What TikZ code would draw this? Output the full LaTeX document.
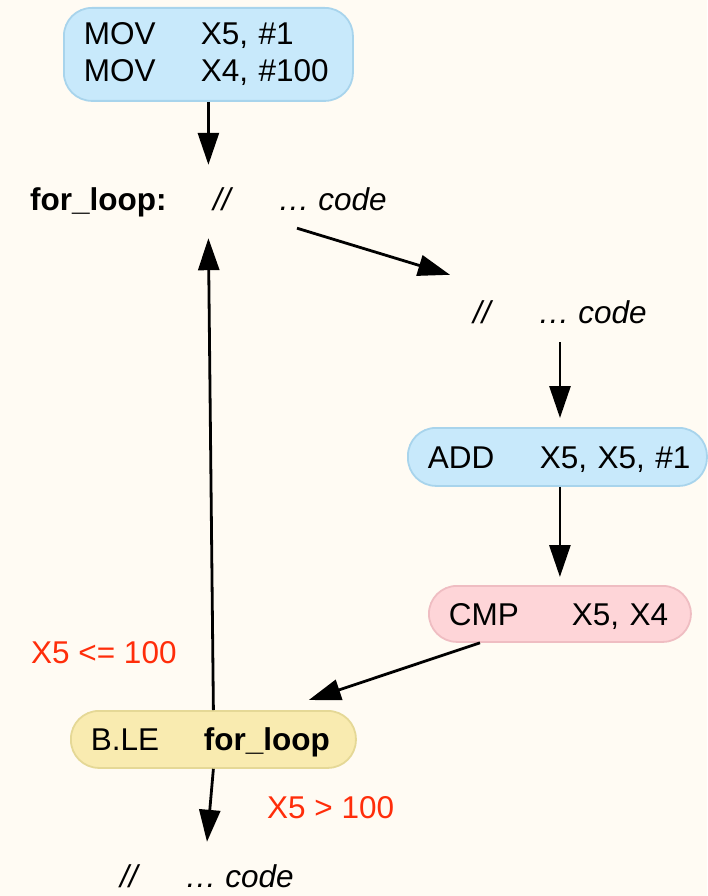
\documentclass[tikz,border=0pt]{standalone}
\usepackage{fontspec}
\setmainfont{Liberation Sans}
\usetikzlibrary{arrows.meta,calc}
\definecolor{bgc}{HTML}{FFFBF3}
\definecolor{bluef}{HTML}{C8E9FB}
\definecolor{blueb}{HTML}{A8D4EC}
\definecolor{pinkf}{HTML}{FED5D8}
\definecolor{pinkb}{HTML}{EFBDC2}
\definecolor{yelf}{HTML}{F9EBB0}
\definecolor{yelb}{HTML}{E5D896}
\definecolor{redc}{HTML}{FF2D0A}
\begin{document}
\begin{tikzpicture}[x=1pt,y=-1pt,
  box/.style={draw, line width=1.8pt, rounded corners=28pt, anchor=north west, align=left,
    inner xsep=20pt, inner ysep=0pt, font=\fontsize{31.5}{37}\selectfont},
  one/.style={text height=22.5pt, text depth=0pt},
  txt/.style={anchor=base west, inner xsep=0pt, inner ysep=22pt, text height=23pt,
    text depth=6pt, font=\fontsize{31.5}{37}\selectfont},
  arr/.style={line width=2.8pt, -{Triangle[length=32pt,width=21pt]}},
]
\fill[bgc] (0,0) rectangle (707,896);
\useasboundingbox (0,0) rectangle (707,896);

\node[box, fill=bluef, draw=blueb, text width=249pt, minimum height=93pt] (mov) at (63,7)
  {\mbox{\makebox[117pt][l]{MOV}X5, \#1}\\\mbox{\makebox[117pt][l]{MOV}X4, \#100}};
\node[box, one, fill=bluef, draw=blueb, text width=259pt, minimum height=58pt] (add) at (407,427)
  {\mbox{\makebox[112pt][l]{ADD}X5, X5, \#1}};
\node[box, one, fill=pinkf, draw=pinkb, text width=222pt, minimum height=56pt] (cmp) at (428,585)
  {\mbox{\makebox[123pt][l]{CMP}X5, X4}};
\node[box, one, fill=yelf, draw=yelb, text width=245pt, minimum height=57pt] (ble) at (70,710)
  {\mbox{\makebox[113pt][l]{B.LE}\textbf{for\_loop}}};

\node[txt] (lbl) at (30,210) {\textbf{for\_loop:}};
\node[txt] (loopc) at (213,210) {\itshape\makebox[65pt][l]{//}… code};
\node[txt] (c2) at (473,323) {\itshape\makebox[65pt][l]{//}… code};
\node[txt] (c3) at (120,887) {\itshape\makebox[65pt][l]{//}… code};
\node[txt, text=redc, inner ysep=0pt] (r1) at (31,663) {X5 <= 100};
\node[txt, text=redc, inner ysep=0pt] (r2) at (267,818) {X5 > 100};

\draw[arr] (mov.south) -- (mov.south |- loopc.north);
\draw[arr] (ble.north) -- (mov.south |- loopc.south);
\draw[arr] ([shift={(84pt,10pt)}]loopc.south west) -- ([shift={(-23pt,3pt)}]c2.north west);
\draw[arr, shorten >=9pt] ([yshift=9pt]c2.south) -- (c2.south |- add.north);
\draw[arr, shorten >=8pt] (add.south -| cmp.north) -- (cmp.north);
\draw[arr] ([xshift=52pt]cmp.south west) -- ([shift={(-48pt,10pt)}]ble.north east);
\draw[arr] (ble.south) -- (c3.north);
\end{tikzpicture}
\end{document}
